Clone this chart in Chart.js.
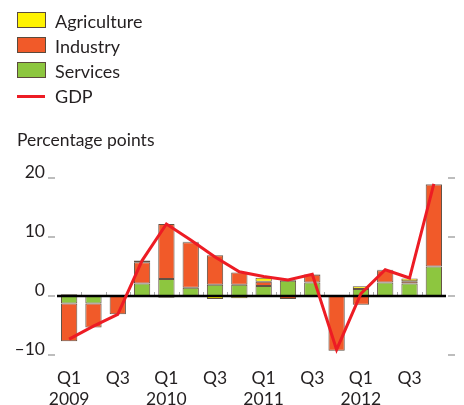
<!DOCTYPE html>
<html>
<head>
<meta charset="utf-8" />
<title>GDP contributions</title>
<script src="https://cdn.jsdelivr.net/npm/chart.js@4"></script>
<style>
    body{
        margin: 0;
        background: #fff;
        font-family: Lato, sans-serif;
        color: #231f20;
    }
    .wrap{
        position: relative;
        width: 464px;
        height: 405px;
    }
    #chart{
        position: absolute;
        left: 0;
        top: 0;
    }
    .key{
        position: absolute;
        left: 17px;
        width: 27px;
        height: 14px;
        border: 1px solid #5b4a3c;
    }
    .keyLine{
        position: absolute;
        left: 17px;
        width: 28px;
        height: 3px;
        background: #ed1c24;
    }
    .keyText, .unit{
        position: absolute;
        font-size: 18px;
        line-height: 1;
        white-space: nowrap;
    }
    .keyText{ left: 55px; }
    .unit{ left: 17px; top: 131px; font-size: 17.5px; }
</style>
</head>
<body>
<div class="wrap">
    <canvas id="chart" width="464" height="405"></canvas>

    <div class="key" style="top:12px;background:#fff200"></div>
    <div class="keyText" style="top:12px">Agriculture</div>
    <div class="key" style="top:37px;background:#f15a29"></div>
    <div class="keyText" style="top:37px">Industry</div>
    <div class="key" style="top:62px;background:#8dc63f"></div>
    <div class="keyText" style="top:62px">Services</div>
    <div class="keyLine" style="top:95px"></div>
    <div class="keyText" style="top:87px">GDP</div>

    <div class="unit">Percentage points</div>
</div>

<script>
// quarters 2009 Q1 - 2012 Q4, only every second one is labelled
const quarters = [
    ['Q1', '2009'], '', 'Q3', '',
    ['Q1', '2010'], '', 'Q3', '',
    ['Q1', '2011'], '', 'Q3', '',
    ['Q1', '2012'], '', 'Q3', ''
];

// contributions to GDP growth, percentage points
const services    = [-1.25, -1.25, 0, 2.1, 2.9, 1.4, 1.9, 1.9, 1.7, 2.6, 2.3, 0, 1.2, 2.3, 2.1, 5.0];
const industry    = [-6.4, -4.1, -3.1, 3.6, 9.3, 7.7, 5.0, 2.1, 0.7, -0.5, 1.3, -9.3, -1.5, 2.05, 0.4, 13.9];
const agriculture = [0.3, 0, 0, 0.3, -0.3, 0.1, -0.5, -0.4, 0.7, 0.15, 0.1, 0, 0.45, 0.1, 0.45, 0.1];
const gdp         = [-7.3, -5.1, -3.1, 6.0, 12.2, 9.5, 6.6, 4.1, 3.3, 2.7, 3.7, -9.1, 0.4, 4.45, 3.05, 19.0];

const yTicks = [-10, 0, 10, 20];

const textColor = '#231f20';
const edge = 'rgba(70, 50, 35, 0.85)';

// zero line, little marks between quarters and the short side ticks,
// drawn over the bars but under the GDP line
const zeroAxis = {
    id: 'zeroAxis',
    beforeDatasetDraw(chart, args) {
        if (args.meta.type !== 'line') return;
        const ctx = chart.ctx;
        const a = chart.chartArea;
        const x = chart.scales.x;
        const y = chart.scales.y;
        const y0 = y.getPixelForValue(0);
        ctx.save();

        ctx.strokeStyle = '#a8a8a8';
        ctx.lineWidth = 1;
        for (let i = 1; i < quarters.length; i++) {
            const xb = Math.round((x.getPixelForValue(i - 1) + x.getPixelForValue(i)) / 2) + 0.5;
            ctx.beginPath();
            ctx.moveTo(xb, y0 - 4);
            ctx.lineTo(xb, y0);
            ctx.stroke();
        }

        ctx.lineWidth = 1.5;
        yTicks.forEach(v => {
            const yp = y.getPixelForValue(v);
            ctx.beginPath();
            ctx.moveTo(a.left - 9, yp);
            ctx.lineTo(a.left - 2, yp);
            ctx.moveTo(a.right + 2, yp);
            ctx.lineTo(a.right + 9, yp);
            ctx.stroke();
        });

        ctx.strokeStyle = '#000';
        ctx.lineWidth = 2.5;
        ctx.beginPath();
        ctx.moveTo(a.left, y0);
        ctx.lineTo(a.right, y0);
        ctx.stroke();

        ctx.restore();
    }
};

const barStyle = {
    type: 'bar',
    borderColor: edge,
    borderWidth: 1,
    borderSkipped: false,
    barPercentage: 0.67,
    categoryPercentage: 1,
    order: 1
};

new Chart(document.getElementById('chart'), {
    data: {
        labels: quarters,
        datasets: [
            Object.assign({ label: 'Services', data: services, backgroundColor: '#8dc63f' }, barStyle),
            Object.assign({ label: 'Industry', data: industry, backgroundColor: '#f15a29' }, barStyle),
            Object.assign({ label: 'Agriculture', data: agriculture, backgroundColor: '#fff200' }, barStyle),
            {
                type: 'line',
                label: 'GDP',
                data: gdp,
                borderColor: '#ed1c24',
                borderWidth: 3,
                pointRadius: 0,
                tension: 0,
                order: 0
            }
        ]
    },
    options: {
        responsive: false,
        animation: false,
        layout: { padding: { top: 178, right: 18, bottom: 0, left: 0 } },
        plugins: {
            legend: { display: false },
            tooltip: { enabled: false }
        },
        scales: {
            x: {
                stacked: true,
                afterFit: s => { s.height = 50; },
                grid: { display: false, drawTicks: false },
                border: { display: false },
                ticks: {
                    color: textColor,
                    font: { family: 'Lato', size: 17.5, lineHeight: 1.25 },
                    padding: 12,
                    maxRotation: 0,
                    autoSkip: false
                }
            },
            y: {
                stacked: true,
                min: -10,
                max: 20,
                afterFit: s => { s.width = 57; },
                afterBuildTicks: s => { s.ticks = yTicks.map(v => ({ value: v })); },
                grid: { display: false, drawTicks: false },
                border: { display: false },
                ticks: {
                    color: textColor,
                    font: { family: 'Lato', size: 17.5 },
                    padding: 12,
                    labelOffset: -6,
                    callback: v => v < 0 ? '\u2013' + Math.abs(v) : String(v)
                }
            }
        }
    },
    plugins: [zeroAxis]
});
</script>
</body>
</html>
